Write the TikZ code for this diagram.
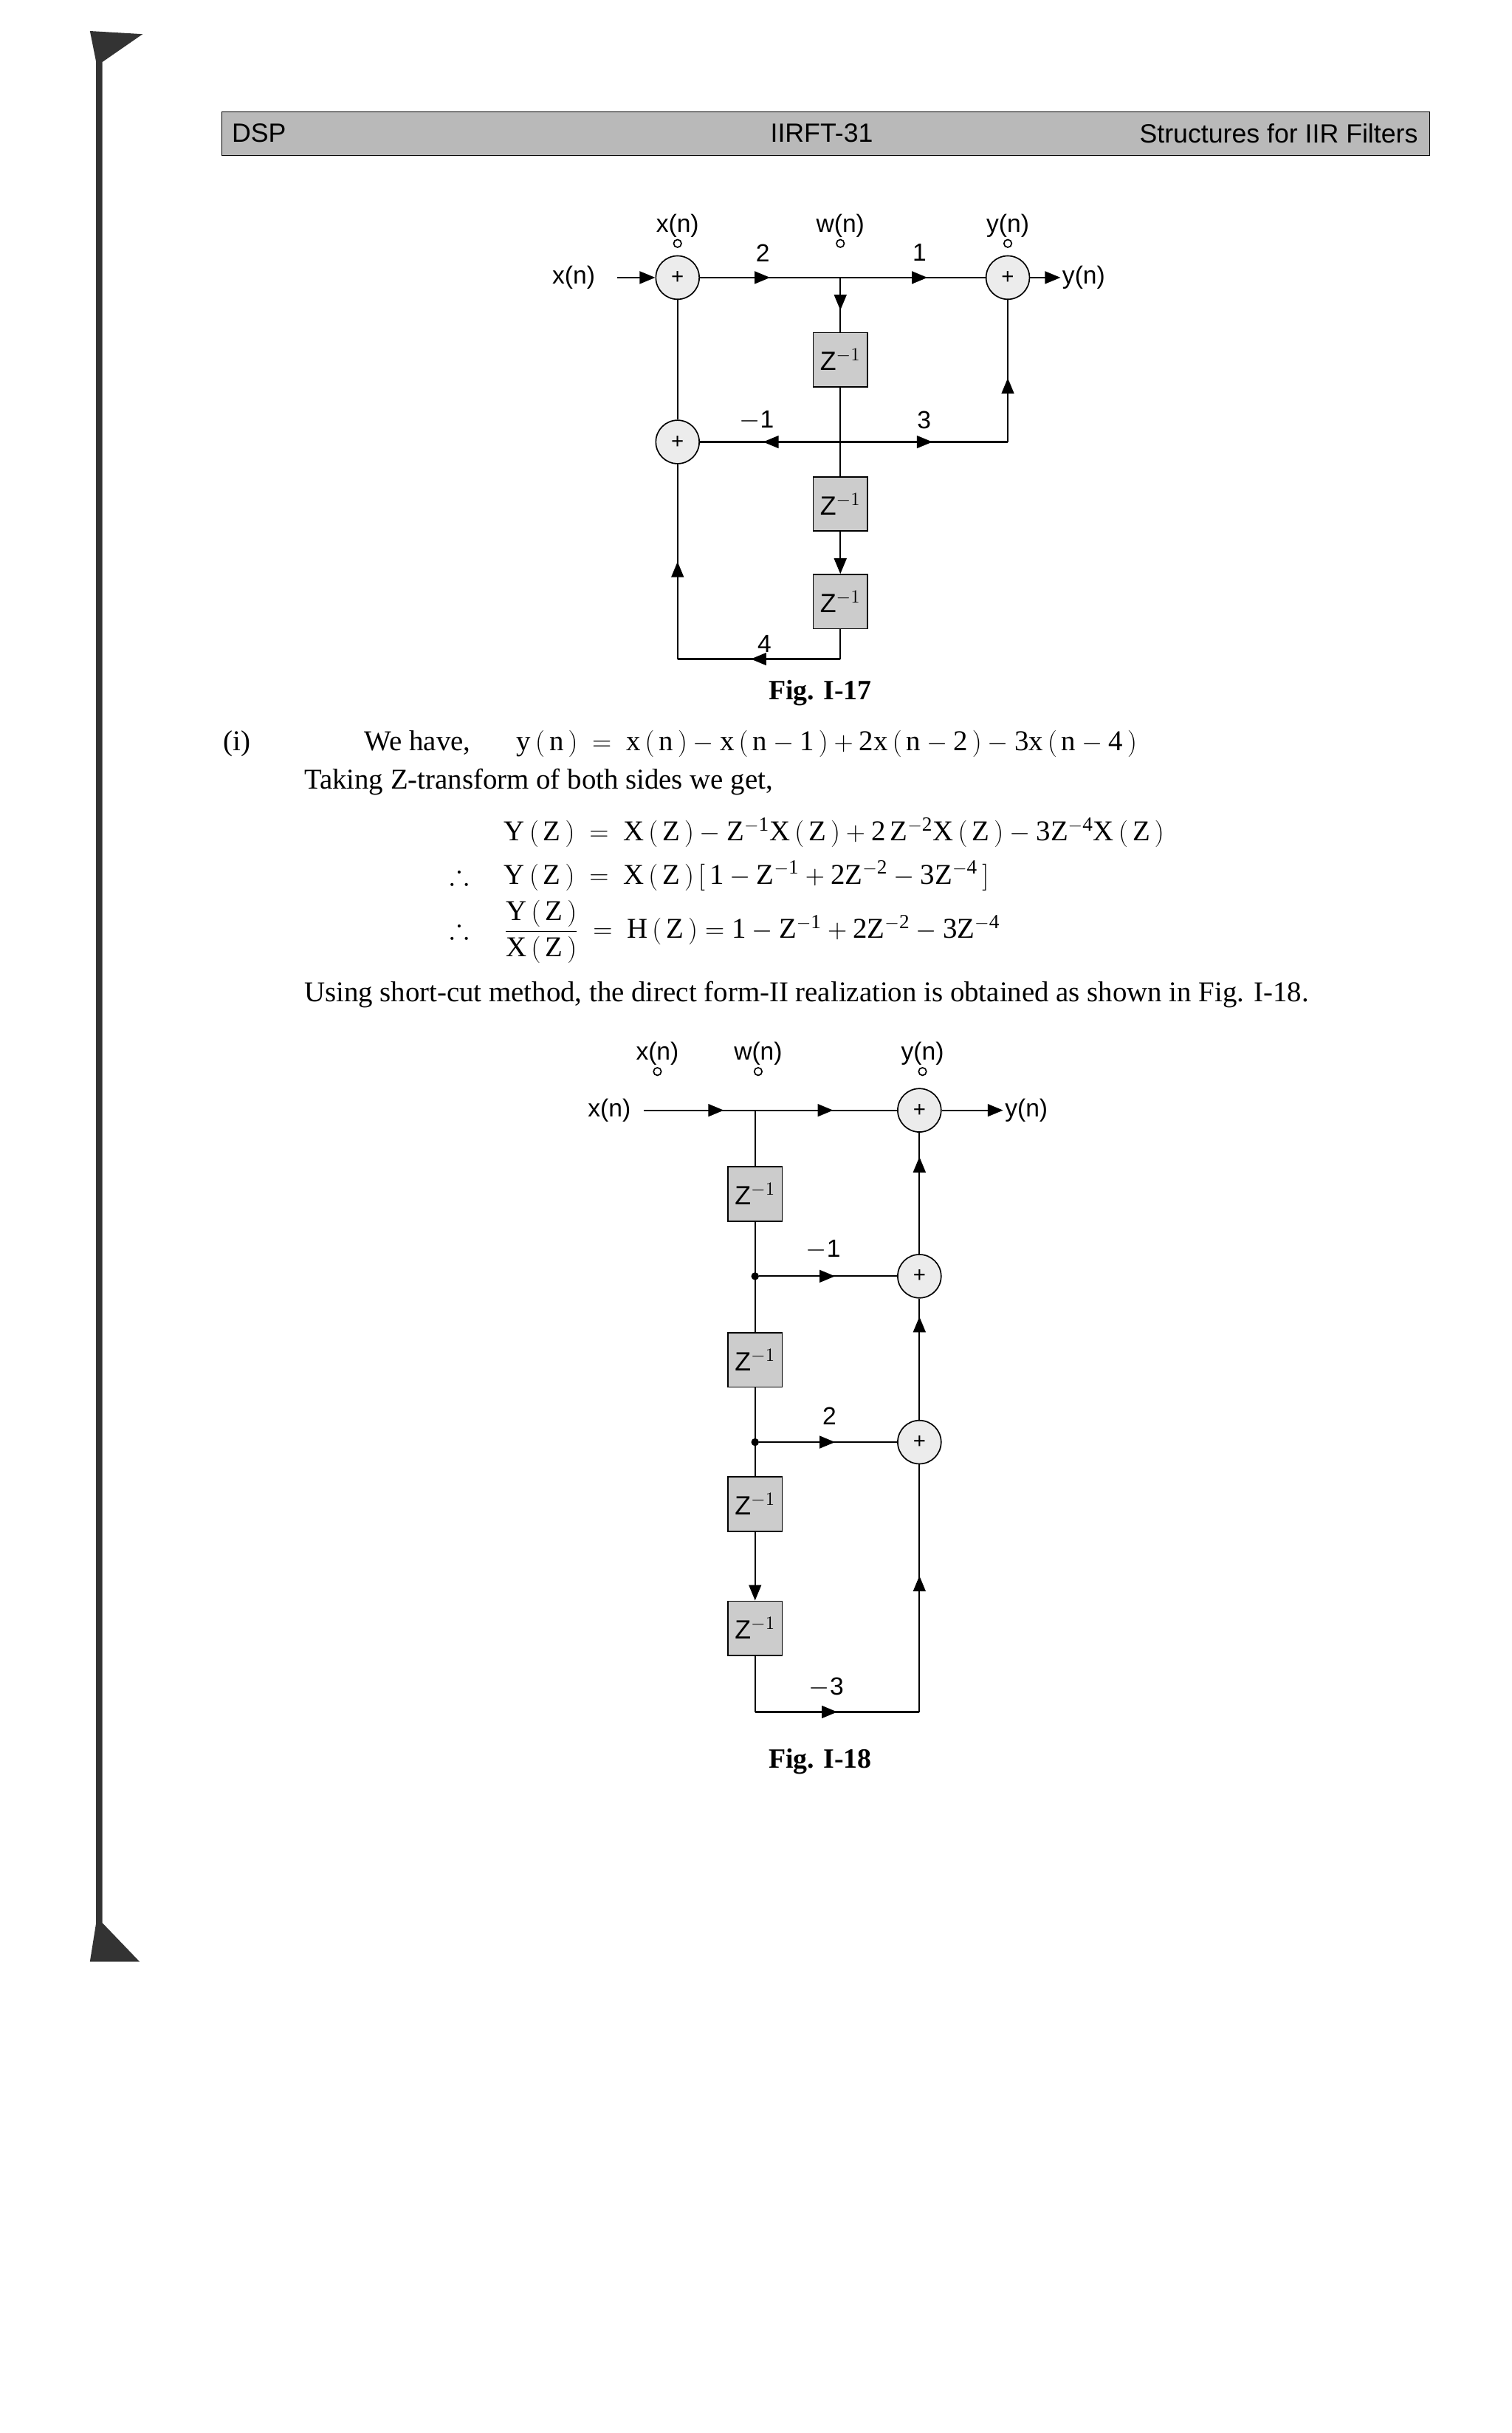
\documentclass[tikz,border=0pt]{standalone}
\usepackage{amsmath,amssymb}
\usepackage{fontspec}
\setmainfont{Liberation Serif}
\setsansfont{Liberation Sans}
\usetikzlibrary{arrows.meta,decorations.markings}
\begin{document}
\begin{tikzpicture}[x=1pt,y=-1pt,
  adder/.style={circle,draw,thick,fill=gray!15,minimum size=28pt,inner sep=0pt,font=\sffamily\fontsize{14}{14}\selectfont},
  zbox/.style={rectangle,draw,thick,fill=gray!40,minimum width=35pt,minimum height=35pt,inner sep=0pt,font=\sffamily\fontsize{17}{17}\selectfont},
  lbl/.style={font=\sffamily\fontsize{16}{18}\selectfont,inner sep=1pt},
  tap/.style={circle,draw,thick,minimum size=5pt,inner sep=0pt},
  wire/.style={line width=1pt},
  midarr/.style={postaction={decorate},decoration={markings,mark=at position #1 with {\arrow{Triangle[length=10pt,width=8pt]}}}},
  endarr/.style={-{Triangle[length=10pt,width=8pt]}},
  dotnode/.style={circle,fill,inner sep=0pt,minimum size=5pt},
  txt/.style={font=\fontsize{18.5}{21}\selectfont,inner sep=0pt,anchor=base west}]
\useasboundingbox (0,0) rectangle (975,1569);
\fill[white] (0,0) rectangle (975,1569);
% binding edge
\fill[black!80] (58,20) -- (92,22) -- (66,40) -- (66,1240) -- (90,1265) -- (58,1265) -- (62,1240) -- (62,40) -- cycle;
% header
\node[draw,fill=gray!55,minimum width=779pt,minimum height=28pt,anchor=north west,inner sep=0pt] (hdr) at (143,72) {};
\node[font=\sffamily\fontsize{17}{18}\selectfont,anchor=west] (h1) at (146,86) {DSP};
\node[font=\sffamily\fontsize{17}{18}\selectfont] (h2) at (530,86) {IIRFT-31};
\node[font=\sffamily\fontsize{17}{18}\selectfont,anchor=east] (h3) at (918,86) {Structures for IIR Filters};

% ---------- Fig I-17
\node[adder] (pa1) at (437,179) {+};
\node[adder] (pa2) at (437,285) {+};
\node[adder] (pa3) at (650,179) {+};
\coordinate (pw) at (542,179);
\coordinate (pj) at (542,285);
\coordinate (pr) at (650,285);
\coordinate (pb) at (542,425);
\coordinate (pl) at (437,425);
\node[zbox] (pz1) at (542,232) {Z$^{-1}$};
\node[zbox] (pz2) at (542,325) {Z$^{-1}$};
\node[zbox] (pz3) at (542,388) {Z$^{-1}$};
\node[lbl] (pxin) at (370,179) {x(n)};
\coordinate (pxs) at (398,179);
\node[lbl,anchor=west] (pyout) at (684,179) {y(n)};
\node[tap] (pt1) at (437,157) {};
\node[tap] (pt2) at (542,157) {};
\node[tap] (pt3) at (650,157) {};
\node[lbl,above] (ptl1) at (pt1.north) {x(n)};
\node[lbl,above] (ptl2) at (pt2.north) {w(n)};
\node[lbl,above] (ptl3) at (pt3.north) {y(n)};
\draw[wire,endarr] (pxs) -- (pa1);
\draw[wire,midarr=0.5] (pa1) -- (pw);
\draw[wire,midarr=0.6] (pw) -- (pa3);
\draw[wire,endarr] (pa3) -- (pyout);
\draw[wire,midarr=0.6] (pw) -- (pz1);
\draw[wire] (pz1) -- (pz2);
\draw[wire,midarr=0.55] (pj) -- (pa2);
\draw[wire,midarr=0.55] (pj) -- (pr);
\draw[wire,midarr=0.45] (pr) -- (pa3);
\draw[wire,endarr] (pz2) -- (pz3);
\draw[wire] (pz3) -- (pb);
\draw[wire,midarr=0.55] (pb) -- (pl);
\draw[wire,midarr=0.5] (pl) -- (pa2);
\draw[wire] (pa2) -- (pa1);
\node[lbl] (pl2) at (492,163) {2};
\node[lbl] (pl1) at (593,163) {1};
\node[lbl] (plm1) at (488,271) {$-$1};
\node[lbl] (pl3) at (596,271) {3};
\node[lbl] (pl4) at (493,415) {4};
\node[font=\bfseries\fontsize{18}{20}\selectfont] (cap1) at (529,447) {Fig. I-17};

% ---------- text
\node[txt] (t0) at (144,484) {(i)};
\node[txt] (t1a) at (235,484) {We have,};
\node[txt] (t1) at (333,484) {$\mathrm{y\,(\,n\,)\ =\ x\,(\,n\,)-x\,(\,n-1\,)+2x\,(\,n-2\,)-3x\,(\,n-4\,)}$};
\node[txt] (t2) at (196,509) {Taking Z-transform of both sides we get,};
\node[txt] (t3) at (325,542) {$\mathrm{Y\,(\,Z\,)\ =\ X\,(\,Z\,)-Z^{-1}X\,(\,Z\,)+2\,Z^{-2}X\,(\,Z\,)-3Z^{-4}X\,(\,Z\,)}$};
\node[txt] (t4s) at (290,570) {$\therefore$};
\node[txt] (t4) at (325,570) {$\mathrm{Y\,(\,Z\,)\ =\ X\,(\,Z\,)\,[\,1-Z^{-1}+2Z^{-2}-3Z^{-4}\,]}$};
\node[txt] (t5s) at (290,605) {$\therefore$};
\node[txt] (t5) at (325,605) {$\mathrm{\dfrac{Y\,(\,Z\,)}{X\,(\,Z\,)}\ =\ H\,(\,Z\,)=1-Z^{-1}+2Z^{-2}-3Z^{-4}}$};
\node[txt] (t6) at (196,646) {Using short-cut method, the direct form-II realization is obtained as shown in Fig. I-18.};

% ---------- Fig I-18
\node[adder] (qa1) at (593,716) {+};
\node[adder] (qa2) at (593,823) {+};
\node[adder] (qa3) at (593,930) {+};
\coordinate (qw) at (487,716);
\node[dotnode] (qd1) at (487,823) {};
\node[dotnode] (qd2) at (487,930) {};
\coordinate (qb) at (487,1104);
\coordinate (qc) at (593,1104);
\node[zbox] (qz1) at (487,770) {Z$^{-1}$};
\node[zbox] (qz2) at (487,877) {Z$^{-1}$};
\node[zbox] (qz3) at (487,970) {Z$^{-1}$};
\node[zbox] (qz4) at (487,1050) {Z$^{-1}$};
\node[lbl] (qxin) at (393,716) {x(n)};
\coordinate (qxs) at (415,716);
\node[lbl,anchor=west] (qyout) at (647,716) {y(n)};
\node[tap] (qt1) at (424,691) {};
\node[tap] (qt2) at (489,691) {};
\node[tap] (qt3) at (595,691) {};
\node[lbl,above] (qtl1) at (qt1.north) {x(n)};
\node[lbl,above] (qtl2) at (qt2.north) {w(n)};
\node[lbl,above] (qtl3) at (qt3.north) {y(n)};
\draw[wire,midarr=0.72] (qxs) -- (qw);
\draw[wire,midarr=0.55] (qw) -- (qa1);
\draw[wire,endarr] (qa1) -- (qyout);
\draw[wire] (qw) -- (qz1);
\draw[wire] (qz1) -- (qz2);
\draw[wire] (qz2) -- (qz3);
\draw[wire,endarr] (qz3) -- (qz4);
\draw[wire,midarr=0.55] (qd1) -- (qa2);
\draw[wire,midarr=0.55] (qd2) -- (qa3);
\draw[wire] (qz4) -- (qb);
\draw[wire,midarr=0.5] (qb) -- (qc);
\draw[wire,midarr=0.55] (qc) -- (qa3);
\draw[wire,midarr=0.85] (qa3) -- (qa2);
\draw[wire,midarr=0.8] (qa2) -- (qa1);
\node[lbl] (qlm1) at (531,806) {$-$1};
\node[lbl] (ql2) at (535,913) {2};
\node[lbl] (qlm3) at (533,1088) {$-$3};
\node[font=\bfseries\fontsize{18}{20}\selectfont] (cap2) at (529,1136) {Fig. I-18};
\end{tikzpicture}
\end{document}
